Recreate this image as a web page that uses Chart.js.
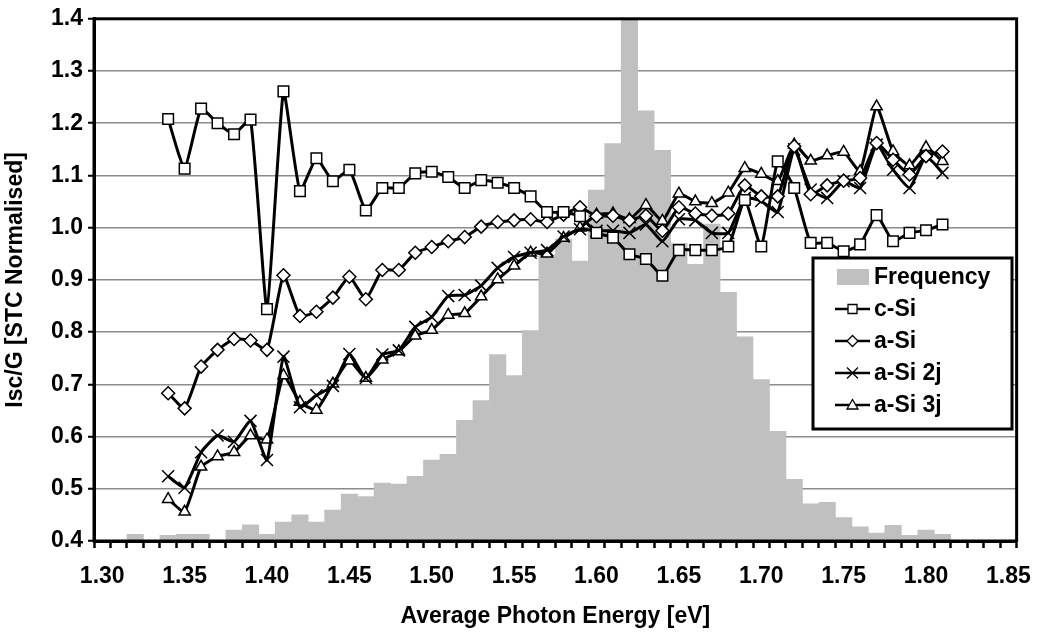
<!DOCTYPE html>
<html><head><meta charset="utf-8">
<script src="https://cdn.jsdelivr.net/npm/chart.js@4.4.1/dist/chart.umd.min.js"></script>
<style>html,body{margin:0;padding:0;background:#fff}#wrap{width:1046px;height:632px}</style>
</head><body><div id="wrap"><canvas id="c" width="1046" height="632"></canvas></div>
<script>
const categories = ['1.30','1.31','1.32','1.33','1.34','1.35','1.36','1.37','1.38','1.39',
  '1.40','1.41','1.42','1.43','1.44','1.45','1.46','1.47','1.48','1.49',
  '1.50','1.51','1.52','1.53','1.54','1.55','1.56','1.57','1.58','1.59',
  '1.60','1.61','1.62','1.63','1.64','1.65','1.66','1.67','1.68','1.69',
  '1.70','1.71','1.72','1.73','1.74','1.75','1.76','1.77','1.78','1.79',
  '1.80','1.81','1.82','1.83','1.84','1.85'];
const tickLabels = ['1.30','1.35','1.40','1.45','1.50','1.55','1.60','1.65','1.70','1.75','1.80','1.85'];

const frequency = [null,null,0.413,null,0.411,0.413,0.413,null,0.421,0.431,
  0.413,0.436,0.450,0.436,0.459,0.490,0.485,0.511,0.509,0.524,
  0.555,0.566,0.631,0.669,0.757,0.717,0.803,0.948,0.978,0.936,
  1.072,1.161,1.400,1.224,1.148,0.970,0.930,1.007,0.876,0.791,
  0.709,0.610,0.518,0.471,0.474,0.445,0.427,0.415,0.430,0.411,
  0.421,0.413,null,null,null,null];

const cSi = [null,null,null,null,1.208,1.113,1.228,1.200,1.179,1.207,
  0.844,1.261,1.070,1.133,1.089,1.111,1.033,1.076,1.076,1.104,
  1.107,1.097,1.076,1.091,1.086,1.076,1.060,1.030,1.030,1.022,
  0.990,0.981,0.949,0.940,0.908,0.957,0.957,0.957,0.964,1.053,
  0.964,1.127,1.076,0.971,0.971,0.955,0.968,1.024,0.974,0.990,
  0.995,1.006,null,null,null,null];

const aSi = [null,null,null,null,0.683,0.654,0.734,0.766,0.787,0.784,
  0.766,0.909,0.831,0.839,0.866,0.906,0.863,0.919,0.919,0.952,
  0.963,0.974,0.982,1.002,1.011,1.014,1.016,1.011,1.025,1.039,
  1.022,1.023,1.014,1.023,0.994,1.039,1.027,1.023,1.027,1.081,
  1.060,1.060,1.156,1.064,1.081,1.090,1.095,1.162,1.130,1.102,
  1.137,1.146,null,null,null,null];

const aSi2j = [null,null,null,null,0.524,0.502,0.570,0.602,0.590,0.630,
  0.555,0.753,0.656,0.679,0.697,0.758,0.712,0.757,0.765,0.810,
  0.829,0.869,0.871,0.889,0.923,0.944,0.952,0.957,0.983,0.997,
  0.994,0.994,0.990,1.006,0.974,1.016,1.014,0.990,0.990,1.057,
  1.051,1.030,1.150,1.073,1.057,1.089,1.076,1.159,1.111,1.076,
  1.137,1.105,null,null,null,null];

const aSi3j = [null,null,null,null,0.480,0.456,0.542,0.562,0.570,0.602,
  0.594,0.717,0.666,0.651,0.701,0.745,0.712,0.747,0.763,0.793,
  0.804,0.833,0.836,0.868,0.901,0.927,0.952,0.950,0.980,1.000,
  1.025,1.027,1.016,1.043,1.013,1.065,1.050,1.047,1.067,1.114,
  1.103,1.089,1.159,1.128,1.138,1.145,1.108,1.232,1.146,1.119,
  1.154,1.127,null,null,null,null];

const FONT = {family: '"Liberation Sans", Arial, sans-serif', size: 23, weight: 'bold'};

function lineDs(label, data, style, radius) {
  return {type: 'line', label, data, borderColor: '#000', borderWidth: 3,
    pointStyle: style, pointRadius: radius, pointHoverRadius: radius,
    pointBackgroundColor: '#fff', pointBorderColor: '#000', pointBorderWidth: 1.5,
    tension: 0.15, spanGaps: false, order: 1, yAxisID: 'y'};
}

function drawMarker(ctx, style, x, y) {
  ctx.save();
  ctx.beginPath();
  ctx.lineWidth = 1.3; ctx.strokeStyle = '#000'; ctx.fillStyle = '#fff';
  if (style === 'rect') { ctx.rect(x - 4.5, y - 4.5, 9, 9); ctx.fill(); ctx.stroke(); }
  else if (style === 'rectRot') { ctx.moveTo(x, y - 5.5); ctx.lineTo(x + 5.5, y); ctx.lineTo(x, y + 5.5); ctx.lineTo(x - 5.5, y); ctx.closePath(); ctx.fill(); ctx.stroke(); }
  else if (style === 'crossRot') { ctx.moveTo(x - 5.5, y - 5.5); ctx.lineTo(x + 5.5, y + 5.5); ctx.moveTo(x + 5.5, y - 5.5); ctx.lineTo(x - 5.5, y + 5.5); ctx.stroke(); }
  else if (style === 'triangle') { ctx.moveTo(x, y - 5.5); ctx.lineTo(x + 5.5, y + 4); ctx.lineTo(x - 5.5, y + 4); ctx.closePath(); ctx.fill(); ctx.stroke(); }
  ctx.restore();
}

const framePlugin = {
  id: 'frame',
  afterDraw(chart) {
    const {ctx, chartArea: a} = chart;
    ctx.save();
    ctx.lineWidth = 3; ctx.strokeStyle = '#000';
    ctx.strokeRect(a.left, a.top, a.right - a.left, a.bottom - a.top);
    // legend
    const bx = 813, by = 258, bw = 199, bh = 171;
    ctx.fillStyle = '#fff';
    ctx.fillRect(bx, by, bw, bh);
    ctx.strokeRect(bx, by, bw, bh);
    ctx.font = 'bold 23px "Liberation Sans", Arial, sans-serif';
    ctx.textBaseline = 'middle';
    ctx.fillStyle = '#000';
    const ys = [277, 309, 341, 373, 405];
    chart.data.datasets.forEach((ds, i) => {
      const y = ys[i];
      if (ds.type === 'line') {
        ctx.beginPath(); ctx.lineWidth = 2.4; ctx.strokeStyle = '#000';
        ctx.moveTo(835, y); ctx.lineTo(870, y); ctx.stroke();
        drawMarker(ctx, ds.pointStyle, 852.5, y);
      } else {
        ctx.fillStyle = ds.backgroundColor;
        ctx.fillRect(837, y - 8, 32, 16);
      }
      ctx.fillStyle = '#000';
      ctx.fillText(ds.label, 874, y + 1);
    });
    ctx.restore();
  }
};

new Chart(document.getElementById('c'), {
  type: 'bar',
  data: {
    labels: categories,
    datasets: [
      {type: 'bar', label: 'Frequency', data: frequency, backgroundColor: '#C0C0C0',
       borderWidth: 0, barPercentage: 1, categoryPercentage: 1, order: 10, yAxisID: 'y'},
      lineDs('c-Si', cSi, 'rect', 7.5),
      lineDs('a-Si', aSi, 'rectRot', 6.5),
      lineDs('a-Si 2j', aSi2j, 'crossRot', 8.5),
      lineDs('a-Si 3j', aSi3j, 'triangle', 6.5)
    ]
  },
  options: {
    responsive: false, animation: false, devicePixelRatio: 1,
    layout: {padding: {left: 0, top: 17, right: 25, bottom: 0}},
    plugins: {legend: {display: false}, tooltip: {enabled: false}},
    scales: {
      x: {
        type: 'category', offset: true,
        grid: {offset: true, drawOnChartArea: false, drawTicks: true, tickLength: 7, tickWidth: 2.5, tickColor: '#000'},
        border: {display: true, width: 3, color: '#000'},
        ticks: {autoSkip: false, maxRotation: 0, minRotation: 0, padding: 15, color: '#000', font: FONT,
          callback: function(v) { const l = categories[v]; return tickLabels.includes(l) ? l : ''; }},
        title: {display: true, text: 'Average Photon Energy [eV]', color: '#000', font: FONT, padding: 2},
        afterFit: s => { s.height = 91; }
      },
      y: {
        type: 'linear', min: 0.4, max: 1.4,
        grid: {color: '#8c8c8c', lineWidth: 1.5, drawTicks: true, tickLength: 6, tickColor: '#000', tickWidth: 2},
        border: {display: true, width: 3, color: '#000'},
        ticks: {stepSize: 0.1, padding: 5, color: '#000', font: FONT, callback: v => Number(v).toFixed(1)},
        title: {display: true, text: 'Isc/G [STC Normalised]', color: '#000', font: FONT, padding: 2},
        afterFit: s => { s.width = 94; }
      }
    }
  },
  plugins: [framePlugin]
});
</script>
</body></html>
